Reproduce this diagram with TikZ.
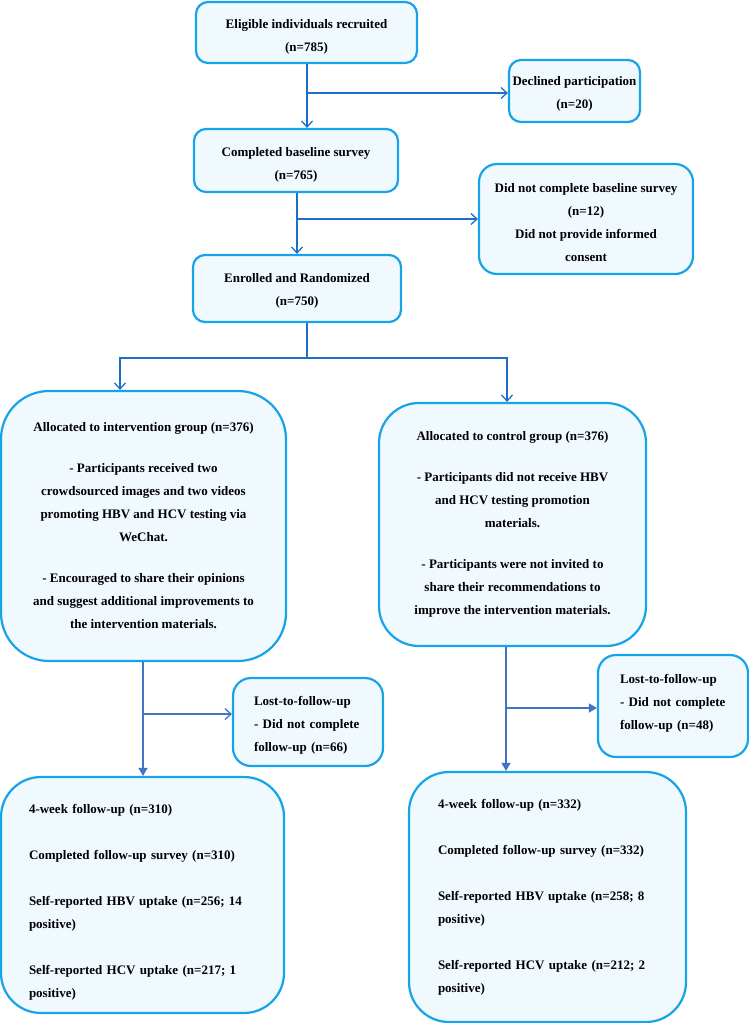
\documentclass[tikz,border=0pt]{standalone}
\usepackage{fontspec}
\setmainfont{Liberation Serif}
\usetikzlibrary{arrows.meta,calc}
\definecolor{boxline}{RGB}{22,163,232}
\definecolor{boxfill}{RGB}{240,249,254}
\definecolor{arrU}{RGB}{30,110,200}
\definecolor{arrL}{RGB}{68,114,196}
\newcommand\dnby[1]{\rule{0pt}{\dimexpr 9pt+2\dimexpr #1pt\relax\relax}}
\newcommand\upby[1]{\rule[-\dimexpr 3pt+2\dimexpr #1pt\relax\relax]{0pt}{1pt}}
\begin{document}
\begin{tikzpicture}[x=1pt,y=-1pt,
  box/.style={draw=boxline, line width=2.2pt, fill=boxfill, rounded corners=#1,
    inner sep=0pt, font=\bfseries\fontsize{13}{23}\selectfont, align=center},
  box/.default=12pt,
  lineU/.style={draw=arrU, line width=1.4pt},
  arrowU/.style={lineU, -{Straight Barb[length=6pt,width=11pt,line width=1.3pt]}},
  lineL/.style={draw=arrL, line width=1.4pt},
  arrowLo/.style={lineL, -{Straight Barb[length=6pt,width=11pt,line width=1.3pt]}},
  arrowLf/.style={lineL, -{Triangle[length=8pt,width=9pt]}}]
\useasboundingbox (0,0) rectangle (749,1023);
\fill[white] (0,0) rectangle (749,1023);

% boxes
\node[box=12pt, minimum width=221pt, minimum height=61pt] (elig) at (306.5,32.5)
  {\dnby{4}Eligible individuals recruited\\(n=785)};
\node[box=12pt, minimum width=131pt, minimum height=62pt] (decl) at (574.5,91)
  {\dnby{3}Declined participation\\(n=20)};
\node[box=12pt, minimum width=204pt, minimum height=63pt] (base) at (296,160.5)
  {\dnby{4}Completed baseline survey\\(n=765)};
\node[box=18pt, minimum width=214pt, minimum height=110pt] (dnc) at (586,219)
  {\dnby{4}Did not complete baseline survey\\(n=12)\\Did not provide informed\\consent};
\node[box=12pt, minimum width=208pt, minimum height=67pt] (enr) at (297,288.5)
  {\dnby{2}Enrolled and Randomized\\(n=750)};
\node[box=48pt, minimum width=285pt, minimum height=270pt] (int) at (143.5,526)
  {Allocated to intervention group (n=376)\\[18pt]
   - Participants received two\\
   crowdsourced images and two videos\\
   promoting HBV and HCV testing via\\
   WeChat.\\[18pt]
   - Encouraged to share their opinions\\
   and suggest additional improvements to\\
   the intervention materials.};
\node[box=40pt, minimum width=267pt, minimum height=243pt] (ctrl) at (512.5,524.5)
  {Allocated to control group (n=376)\\[18pt]
   - Participants did not receive HBV\\
   and HCV testing promotion\\
   materials.\\[18pt]
   - Participants were not invited to\\
   share their recommendations to\\
   improve the intervention materials.};
\node[box=18pt, minimum width=150pt, minimum height=88pt, align=left, text width=108pt] (lostL) at (308,722)
  {\dnby{3}Lost-to-follow-up\\- Did not complete\\follow-up (n=66)};
\node[box=18pt, minimum width=150pt, minimum height=102pt, align=left, text width=106pt] (lostR) at (673,706)
  {Lost-to-follow-up\\- Did not complete\\follow-up (n=48)\upby{3}};
\node[box=40pt, minimum width=283pt, minimum height=236pt, align=left, text width=227pt] (fuL) at (142.5,895)
  {\dnby{7}4-week follow-up (n=310)\\[23pt]
   Completed follow-up survey (n=310)\\[23pt]
   Self-reported HBV uptake (n=256; 14\\
   positive)\\[23pt]
   Self-reported HCV uptake (n=217; 1\\
   positive)};
\node[box=40pt, minimum width=277pt, minimum height=250pt, align=left, text width=219pt] (fuR) at (547.5,897)
  {4-week follow-up (n=332)\\[23pt]
   Completed follow-up survey (n=332)\\[23pt]
   Self-reported HBV uptake (n=258; 8\\
   positive)\\[23pt]
   Self-reported HCV uptake (n=212; 2\\
   positive)};

% junction points
\coordinate (j1) at (307,93);
\coordinate (j2) at (297,219);
\coordinate (sp) at (307,358);
\coordinate (tl) at (120,358);
\coordinate (tr) at (507,358);
\coordinate (bL) at (143,714);
\coordinate (bR) at (506,708);

% connectors
\draw[arrowU] (elig.south -| j1) -- (j1 |- base.north);
\draw[arrowU] (j1) -- (j1 -| decl.west);
\draw[arrowU] (base.south -| j2) -- (j2 |- enr.north);
\draw[arrowU] (j2) -- (j2 -| dnc.west);
\draw[lineU] (enr.south -| sp) -- (sp);
\draw[arrowU] (sp) -- (tl) -- (tl |- int.north);
\draw[arrowU] (sp) -- (tr) -- (tr |- ctrl.north);
\draw[arrowLf] (int.south -| bL) -- (bL |- fuL.north);
\draw[arrowLo] (bL) -- (bL -| lostL.west);
\draw[arrowLf] (ctrl.south -| bR) -- (bR |- fuR.north);
\draw[arrowLf] (bR) -- (bR -| lostR.west);
\end{tikzpicture}
\end{document}
